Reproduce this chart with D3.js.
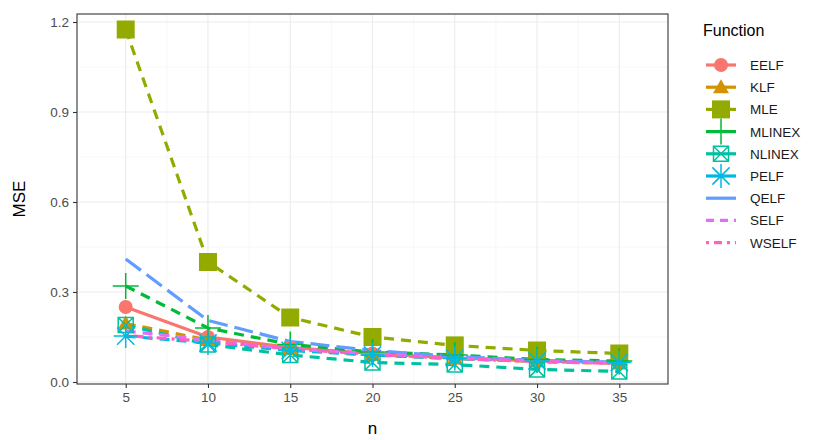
<!DOCTYPE html>
<html>
<head>
<meta charset="utf-8">
<script src="https://cdn.jsdelivr.net/npm/d3@7"></script>
<style>
  body { margin: 0; background: #fff; }
  text { font-family: "Liberation Sans", Arial, sans-serif; }
</style>
</head>
<body>
<svg id="chart" width="822" height="440"></svg>
<script>
// sample sizes
const sizes = [5, 10, 15, 20, 25, 30, 35]
const functions = ['EELF', 'KLF', 'MLE', 'MLINEX', 'NLINEX', 'PELF', 'QELF', 'SELF', 'WSELF']

// MSE per function
const eelf = [0.250, 0.150, 0.115, 0.095, 0.080, 0.070, 0.065]
const klf = [0.195, 0.140, 0.110, 0.090, 0.078, 0.068, 0.062]
const mle = [1.175, 0.400, 0.215, 0.150, 0.122, 0.105, 0.095]
const mlinex = [0.320, 0.180, 0.125, 0.100, 0.090, 0.075, 0.070]
const nlinex = [0.190, 0.125, 0.090, 0.065, 0.058, 0.042, 0.035]
const pelf = [0.153, 0.130, 0.105, 0.090, 0.078, 0.070, 0.065]
const qelf = [0.410, 0.205, 0.135, 0.105, 0.085, 0.072, 0.065]
const self = [0.170, 0.140, 0.110, 0.095, 0.080, 0.070, 0.063]
const wself = [0.155, 0.135, 0.110, 0.092, 0.078, 0.068, 0.062]

const xTicks = [5, 10, 15, 20, 25, 30, 35]
const yTicks = [0, 0.3, 0.6, 0.9, 1.2]

const values = { EELF: eelf, KLF: klf, MLE: mle, MLINEX: mlinex, NLINEX: nlinex, PELF: pelf, QELF: qelf, SELF: self, WSELF: wself }

const colors = ['#F8766D', '#D39200', '#93AA00', '#00BA38', '#00C19F', '#00B9E3', '#619CFF', '#DB72FB', '#FF61C3']
const shapes = ['circle', 'triangle', 'square', 'plus', 'boxx', 'star', null, null, null]
const dashes = [null, '10,7', '10,7', '10,7', '10,7', '10,7', '19,7', '10,7', '3,5,10,5']

const panel = { left: 77, top: 14, right: 668, bottom: 384 }

const x = d3.scaleLinear().domain([2.04, 37.96]).range([panel.left, panel.right])
const y = d3.scaleLinear().domain([-0.0067, 1.2267]).range([panel.bottom, panel.top])

const svg = d3.select('#chart')

// grid
const grid = svg.append('g')
const xMinor = d3.range(7.5, 35, 5)
const yMinor = [0.15, 0.45, 0.75, 1.05]
grid.selectAll('.xminor').data(xMinor).join('line')
  .attr('x1', d => x(d)).attr('x2', d => x(d))
  .attr('y1', panel.top).attr('y2', panel.bottom)
  .attr('stroke', '#F2F2F2').attr('stroke-width', 0.6)
grid.selectAll('.yminor').data(yMinor).join('line')
  .attr('y1', d => y(d)).attr('y2', d => y(d))
  .attr('x1', panel.left).attr('x2', panel.right)
  .attr('stroke', '#F2F2F2').attr('stroke-width', 0.6)
grid.selectAll('.xmajor').data(xTicks).join('line')
  .attr('x1', d => x(d)).attr('x2', d => x(d))
  .attr('y1', panel.top).attr('y2', panel.bottom)
  .attr('stroke', '#EBEBEB').attr('stroke-width', 1.1)
grid.selectAll('.ymajor').data(yTicks).join('line')
  .attr('y1', d => y(d)).attr('y2', d => y(d))
  .attr('x1', panel.left).attr('x2', panel.right)
  .attr('stroke', '#EBEBEB').attr('stroke-width', 1.1)

// lines
const line = d3.line().x((d, i) => x(sizes[i])).y(d => y(d))
functions.forEach((f, k) => {
  svg.append('path')
    .attr('d', line(values[f]))
    .attr('fill', 'none')
    .attr('stroke', colors[k])
    .attr('stroke-width', 3.2)
    .attr('stroke-dasharray', dashes[k])
})

// point shapes
function shapePath (shape, s) {
  const p = d3.path()
  if (shape === 'circle') {
    p.arc(0, 0, 7, 0, 2 * Math.PI)
  } else if (shape === 'triangle') {
    p.moveTo(0, -8); p.lineTo(8, 6); p.lineTo(-8, 6); p.closePath()
  } else if (shape === 'square') {
    p.rect(-s, -s, 2 * s, 2 * s)
  } else if (shape === 'plus') {
    p.moveTo(-s, 0); p.lineTo(s, 0); p.moveTo(0, -s); p.lineTo(0, s)
  } else if (shape === 'boxx') {
    p.rect(-s, -s, 2 * s, 2 * s)
    p.moveTo(-s, -s); p.lineTo(s, s); p.moveTo(s, -s); p.lineTo(-s, s)
  } else if (shape === 'star') {
    p.moveTo(-s, 0); p.lineTo(s, 0); p.moveTo(0, -s); p.lineTo(0, s)
    const d = s * 0.72
    p.moveTo(-d, -d); p.lineTo(d, d); p.moveTo(d, -d); p.lineTo(-d, d)
  }
  return p.toString()
}
const filled = { circle: true, triangle: true, square: true }
const shapeSize = { circle: 7, triangle: 8, square: 9, plus: 13, boxx: 7.5, star: 12 }

function drawShape (g, shape, color, cx, cy, scale) {
  g.append('path')
    .attr('d', shapePath(shape, shapeSize[shape] * scale))
    .attr('transform', `translate(${cx},${cy})`)
    .attr('fill', filled[shape] ? color : 'none')
    .attr('stroke', color)
    .attr('stroke-width', filled[shape] ? 0 : 1.5)
}

const pts = svg.append('g')
functions.forEach((f, k) => {
  if (!shapes[k]) return
  values[f].forEach((v, i) => drawShape(pts, shapes[k], colors[k], x(sizes[i]), y(v), 1))
})

// panel border
svg.append('rect')
  .attr('x', panel.left).attr('y', panel.top)
  .attr('width', panel.right - panel.left).attr('height', panel.bottom - panel.top)
  .attr('fill', 'none').attr('stroke', '#333').attr('stroke-width', 1.1)

// axes
const xAxis = svg.append('g')
  .attr('transform', `translate(0,${panel.bottom})`)
  .call(d3.axisBottom(x).tickValues(xTicks).tickSize(4).tickPadding(4))
const yAxis = svg.append('g')
  .attr('transform', `translate(${panel.left},0)`)
  .call(d3.axisLeft(y).tickValues(yTicks).tickFormat(d3.format('.1f')).tickSize(4).tickPadding(4))
;[xAxis, yAxis].forEach(a => {
  a.select('.domain').remove()
  a.selectAll('.tick line').attr('stroke', '#333').attr('stroke-width', 1.1)
  a.selectAll('.tick text').attr('fill', '#4D4D4D').style('font-size', '13.5px')
    .style('font-family', '"Liberation Sans", Arial, sans-serif')
})

svg.append('text')
  .attr('x', (panel.left + panel.right) / 2).attr('y', 434)
  .attr('text-anchor', 'middle').style('font-size', '17px').text('n')
svg.append('text')
  .attr('transform', `translate(25,${(panel.top + panel.bottom) / 2}) rotate(-90)`)
  .attr('text-anchor', 'middle').style('font-size', '17px').text('MSE')

// legend
const legend = svg.append('g')
legend.append('text').attr('x', 703).attr('y', 36).style('font-size', '16px').text('Function')
functions.forEach((f, k) => {
  const cy = 65 + k * 22.2
  legend.append('line')
    .attr('x1', 706).attr('x2', 736).attr('y1', cy).attr('y2', cy)
    .attr('stroke', colors[k]).attr('stroke-width', 3.2)
    .attr('stroke-dasharray', k >= 7 ? (k === 7 ? '8,6' : '3,5,8,5') : null)
  if (shapes[k]) drawShape(legend, shapes[k], colors[k], 721, cy, 1)
  legend.append('text').attr('x', 750).attr('y', cy + 5).style('font-size', '13.5px')
    .attr('fill', '#1a1a1a').text(f)
})
</script>
</body>
</html>
